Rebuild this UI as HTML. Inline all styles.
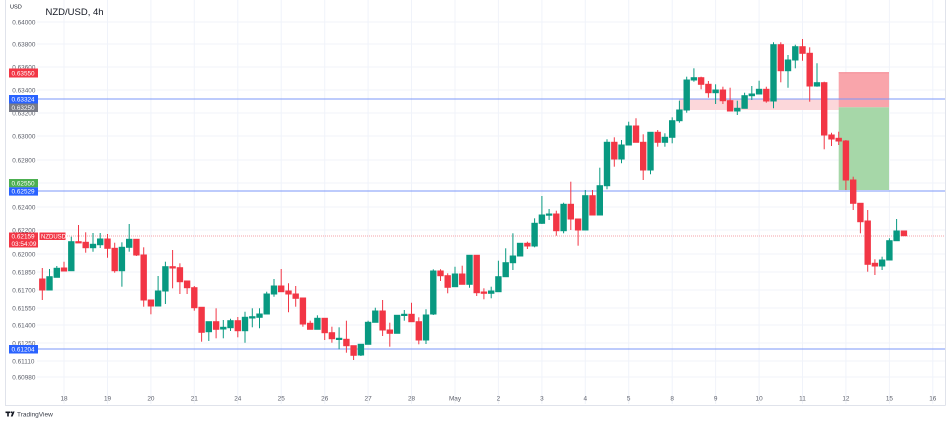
<!DOCTYPE html>
<html><head><meta charset="utf-8"><style>
html,body{margin:0;padding:0;background:#fff;}
svg{display:block;font-family:"Liberation Sans",sans-serif;}
</style></head><body>
<svg width="949" height="421" viewBox="0 0 949 421" xmlns="http://www.w3.org/2000/svg">
<rect width="949" height="421" fill="#fff"/>
<!-- frame -->
<line x1="5.5" y1="0" x2="5.5" y2="405.5" stroke="#e0e3eb" stroke-width="1"/>
<line x1="5" y1="405.5" x2="945.5" y2="405.5" stroke="#e0e3eb" stroke-width="1"/>
<line x1="945.5" y1="0" x2="945.5" y2="405.5" stroke="#e0e3eb" stroke-width="1"/>
<!-- horizontal grid -->
<g stroke="#f0f3fa" stroke-width="1">
<line x1="37" y1="22" x2="945" y2="22"/><line x1="37" y1="44" x2="945" y2="44"/>
<line x1="37" y1="67" x2="945" y2="67"/><line x1="37" y1="90" x2="945" y2="90"/>
<line x1="37" y1="113" x2="945" y2="113"/><line x1="37" y1="136" x2="945" y2="136"/>
<line x1="37" y1="160" x2="945" y2="160"/><line x1="37" y1="183" x2="945" y2="183"/>
<line x1="37" y1="207" x2="945" y2="207"/><line x1="37" y1="230" x2="945" y2="230"/>
<line x1="37" y1="254" x2="945" y2="254"/><line x1="37" y1="272" x2="945" y2="272"/>
<line x1="37" y1="290" x2="945" y2="290"/><line x1="37" y1="308" x2="945" y2="308"/>
<line x1="37" y1="325" x2="945" y2="325"/><line x1="37" y1="343" x2="945" y2="343"/>
<line x1="37" y1="361" x2="945" y2="361"/><line x1="37" y1="377" x2="945" y2="377"/>
</g>
<!-- vertical grid -->
<g stroke="#f0f3fa" stroke-width="1">
<line x1="64" y1="0" x2="64" y2="404"/><line x1="107.5" y1="0" x2="107.5" y2="404"/>
<line x1="150.9" y1="0" x2="150.9" y2="404"/><line x1="194.3" y1="0" x2="194.3" y2="404"/>
<line x1="237.8" y1="0" x2="237.8" y2="404"/><line x1="281.2" y1="0" x2="281.2" y2="404"/>
<line x1="324.7" y1="0" x2="324.7" y2="404"/><line x1="368.1" y1="0" x2="368.1" y2="404"/>
<line x1="411.5" y1="0" x2="411.5" y2="404"/><line x1="455" y1="0" x2="455" y2="404"/>
<line x1="498.4" y1="0" x2="498.4" y2="404"/><line x1="541.9" y1="0" x2="541.9" y2="404"/>
<line x1="585.3" y1="0" x2="585.3" y2="404"/><line x1="628.7" y1="0" x2="628.7" y2="404"/>
<line x1="672.2" y1="0" x2="672.2" y2="404"/><line x1="715.6" y1="0" x2="715.6" y2="404"/>
<line x1="759.1" y1="0" x2="759.1" y2="404"/><line x1="802.5" y1="0" x2="802.5" y2="404"/>
<line x1="845.9" y1="0" x2="845.9" y2="404"/><line x1="889.4" y1="0" x2="889.4" y2="404"/>
<line x1="932.8" y1="0" x2="932.8" y2="404"/>
</g>
<!-- zones -->
<rect x="679" y="99" width="160" height="11" fill="#fcd7da"/>
<rect x="838.7" y="72.3" width="50.3" height="35" fill="#f9a5ab"/>
<line x1="838.7" y1="72.8" x2="889" y2="72.8" stroke="#f38a93" stroke-width="1"/>
<rect x="838.7" y="107.3" width="50.3" height="82.7" fill="#a6d7a8"/>
<!-- horizontal lines -->
<g stroke="#7b97f8" stroke-width="1">
<line x1="38" y1="99" x2="945" y2="99"/>
<line x1="38" y1="191" x2="945" y2="191"/>
<line x1="38" y1="349" x2="945" y2="349"/>
</g>
<line x1="65" y1="236" x2="945" y2="236" stroke="#f5a3aa" stroke-width="1" stroke-dasharray="1 1"/>
<!-- candles -->
<g stroke-width="1">
<g stroke="#f23645" fill="#f23645">
<line x1="42.3" y1="268" x2="42.3" y2="300"/><rect x="39.6" y="279" width="5.4" height="11"/>
<line x1="64.0" y1="261.7" x2="64.0" y2="271"/><rect x="61.3" y="268" width="5.4" height="3"/>
<line x1="78.5" y1="225" x2="78.5" y2="242.7"/><rect x="75.8" y="241.7" width="5.4" height="1.2"/>
<line x1="85.7" y1="232.3" x2="85.7" y2="252.7"/><rect x="83" y="242.3" width="5.4" height="5.4"/>
<line x1="107.5" y1="234" x2="107.5" y2="257.7"/><rect x="104.8" y="239" width="5.4" height="9.3"/>
<line x1="114.7" y1="242.7" x2="114.7" y2="272.7"/><rect x="112" y="248.3" width="5.4" height="22.4"/>
<line x1="136.4" y1="239.3" x2="136.4" y2="256"/><rect x="133.7" y="239.3" width="5.4" height="15.7"/>
<line x1="143.7" y1="247.3" x2="143.7" y2="306.7"/><rect x="141" y="255" width="5.4" height="45"/>
<line x1="150.9" y1="300" x2="150.9" y2="314.3"/><rect x="148.2" y="300" width="5.4" height="6"/>
<line x1="172.6" y1="250" x2="172.6" y2="288.3"/><rect x="169.9" y="266.7" width="5.4" height="1.3"/>
<line x1="179.9" y1="263.3" x2="179.9" y2="294"/><rect x="177.2" y="267.7" width="5.4" height="14"/>
<line x1="187.1" y1="281" x2="187.1" y2="294"/><rect x="184.4" y="281" width="5.4" height="6.7"/>
<line x1="194.3" y1="286" x2="194.3" y2="310.7"/><rect x="191.6" y="287.7" width="5.4" height="20"/>
<line x1="201.6" y1="307.3" x2="201.6" y2="341.7"/><rect x="198.9" y="307.3" width="5.4" height="25"/>
<line x1="216.1" y1="308.3" x2="216.1" y2="338.3"/><rect x="213.4" y="321.7" width="5.4" height="7.6"/>
<line x1="237.8" y1="317" x2="237.8" y2="337.3"/><rect x="235.1" y="320.7" width="5.4" height="10"/>
<line x1="281.2" y1="269" x2="281.2" y2="291.7"/><rect x="278.5" y="286" width="5.4" height="5.7"/>
<line x1="288.5" y1="283.3" x2="288.5" y2="312.3"/><rect x="285.8" y="291" width="5.4" height="3"/>
<line x1="295.7" y1="286" x2="295.7" y2="306.7"/><rect x="293" y="294" width="5.4" height="4.3"/>
<line x1="302.9" y1="298" x2="302.9" y2="326.7"/><rect x="300.2" y="298" width="5.4" height="26"/>
<line x1="310.2" y1="320.7" x2="310.2" y2="329.3"/><rect x="307.5" y="323.3" width="5.4" height="6"/>
<line x1="324.7" y1="318.3" x2="324.7" y2="340"/><rect x="322" y="318.3" width="5.4" height="14.4"/>
<line x1="331.9" y1="326.7" x2="331.9" y2="342.7"/><rect x="329.2" y="332.7" width="5.4" height="6"/>
<line x1="346.4" y1="320.7" x2="346.4" y2="352.7"/><rect x="343.7" y="339.3" width="5.4" height="6.4"/>
<line x1="353.6" y1="345.7" x2="353.6" y2="360"/><rect x="350.9" y="345.7" width="5.4" height="9.6"/>
<line x1="382.6" y1="300" x2="382.6" y2="336"/><rect x="379.9" y="311" width="5.4" height="19"/>
<line x1="389.8" y1="322.7" x2="389.8" y2="346.7"/><rect x="387.1" y="330" width="5.4" height="3.3"/>
<line x1="411.5" y1="302.7" x2="411.5" y2="321.7"/><rect x="408.8" y="314.3" width="5.4" height="7.4"/>
<line x1="418.8" y1="317.3" x2="418.8" y2="344.3"/><rect x="416.1" y="321.7" width="5.4" height="18.3"/>
<line x1="440.5" y1="269.3" x2="440.5" y2="281"/><rect x="437.8" y="271" width="5.4" height="4.7"/>
<line x1="447.7" y1="273.3" x2="447.7" y2="293.3"/><rect x="445" y="275.7" width="5.4" height="11.6"/>
<line x1="462.2" y1="265.7" x2="462.2" y2="284.3"/><rect x="459.5" y="274" width="5.4" height="10.3"/>
<line x1="476.7" y1="255.3" x2="476.7" y2="296"/><rect x="474" y="255.3" width="5.4" height="37.4"/>
<line x1="483.9" y1="288.3" x2="483.9" y2="299.3"/><rect x="481.2" y="292" width="5.4" height="1.3"/>
<line x1="527.4" y1="241.7" x2="527.4" y2="249"/><rect x="524.7" y="243.3" width="5.4" height="2.7"/>
<line x1="556.3" y1="210.7" x2="556.3" y2="235.7"/><rect x="553.6" y="214" width="5.4" height="16.7"/>
<line x1="570.8" y1="181.7" x2="570.8" y2="230"/><rect x="568.1" y="204.3" width="5.4" height="14.7"/>
<line x1="578.1" y1="219" x2="578.1" y2="245.7"/><rect x="575.4" y="219" width="5.4" height="11"/>
<line x1="592.5" y1="190" x2="592.5" y2="215"/><rect x="589.8" y="195.7" width="5.4" height="19.3"/>
<line x1="614.3" y1="137.3" x2="614.3" y2="166.7"/><rect x="611.6" y="142.3" width="5.4" height="16.7"/>
<line x1="636.0" y1="118.3" x2="636.0" y2="142.3"/><rect x="633.3" y="126" width="5.4" height="16.3"/>
<line x1="643.2" y1="134.3" x2="643.2" y2="180"/><rect x="640.5" y="142.3" width="5.4" height="27.7"/>
<line x1="657.7" y1="130" x2="657.7" y2="146.7"/><rect x="655" y="132.3" width="5.4" height="10"/>
<line x1="701.1" y1="76.7" x2="701.1" y2="89.3"/><rect x="698.4" y="77.7" width="5.4" height="6.6"/>
<line x1="708.4" y1="81" x2="708.4" y2="97.7"/><rect x="705.7" y="84.3" width="5.4" height="8.4"/>
<line x1="722.9" y1="86.7" x2="722.9" y2="104"/><rect x="720.2" y="90" width="5.4" height="10.7"/>
<line x1="730.1" y1="87.7" x2="730.1" y2="111"/><rect x="727.4" y="100.7" width="5.4" height="10.3"/>
<line x1="766.3" y1="86.7" x2="766.3" y2="102.7"/><rect x="763.6" y="89.3" width="5.4" height="11.7"/>
<line x1="780.8" y1="42.3" x2="780.8" y2="82.3"/><rect x="778.1" y="44.7" width="5.4" height="26"/>
<line x1="802.5" y1="39" x2="802.5" y2="60.7"/><rect x="799.8" y="46.7" width="5.4" height="6.6"/>
<line x1="809.7" y1="47.3" x2="809.7" y2="101.7"/><rect x="807" y="53.3" width="5.4" height="32.7"/>
<line x1="824.2" y1="81.7" x2="824.2" y2="149.3"/><rect x="821.5" y="82.7" width="5.4" height="52.3"/>
<line x1="831.5" y1="132.7" x2="831.5" y2="146"/><rect x="828.8" y="135" width="5.4" height="4"/>
<line x1="838.7" y1="131.7" x2="838.7" y2="145"/><rect x="836" y="138.3" width="5.4" height="2.7"/>
<line x1="845.9" y1="140" x2="845.9" y2="190"/><rect x="843.2" y="141" width="5.4" height="39"/>
<line x1="853.2" y1="176.7" x2="853.2" y2="210"/><rect x="850.5" y="180" width="5.4" height="23.3"/>
<line x1="860.4" y1="203.3" x2="860.4" y2="233.3"/><rect x="857.7" y="203.3" width="5.4" height="18.4"/>
<line x1="867.7" y1="210" x2="867.7" y2="271.7"/><rect x="865" y="221" width="5.4" height="43.3"/>
<line x1="874.9" y1="259.3" x2="874.9" y2="275"/><rect x="872.2" y="263.3" width="5.4" height="2.7"/>
<rect x="901.2" y="231" width="5.4" height="4.7"/>
</g>
<g stroke="#089981" fill="#089981">
<line x1="49.5" y1="269" x2="49.5" y2="290"/><rect x="46.8" y="276.7" width="5.4" height="13.3"/>
<line x1="56.8" y1="266" x2="56.8" y2="277.3"/><rect x="54.1" y="268.3" width="5.4" height="9"/>
<line x1="71.3" y1="236.7" x2="71.3" y2="270.7"/><rect x="68.6" y="241.7" width="5.4" height="29"/>
<line x1="93.0" y1="233" x2="93.0" y2="251.7"/><rect x="90.3" y="244.3" width="5.4" height="3.4"/>
<line x1="100.2" y1="233" x2="100.2" y2="248"/><rect x="97.5" y="239" width="5.4" height="5.7"/>
<line x1="121.9" y1="242.3" x2="121.9" y2="286.7"/><rect x="119.2" y="247.3" width="5.4" height="23.4"/>
<line x1="129.2" y1="224" x2="129.2" y2="251.7"/><rect x="126.5" y="239.3" width="5.4" height="8"/>
<line x1="158.1" y1="276" x2="158.1" y2="306"/><rect x="155.4" y="291" width="5.4" height="15"/>
<line x1="165.4" y1="261.7" x2="165.4" y2="304"/><rect x="162.7" y="266.7" width="5.4" height="24.3"/>
<line x1="208.8" y1="321.7" x2="208.8" y2="341"/><rect x="206.1" y="321.7" width="5.4" height="10"/>
<line x1="223.3" y1="320" x2="223.3" y2="338.3"/><rect x="220.6" y="327.3" width="5.4" height="1.7"/>
<line x1="230.5" y1="318.7" x2="230.5" y2="331"/><rect x="227.8" y="320.7" width="5.4" height="7"/>
<line x1="245.0" y1="311.7" x2="245.0" y2="342.7"/><rect x="242.3" y="317.3" width="5.4" height="13.4"/>
<line x1="252.3" y1="308.3" x2="252.3" y2="327.3"/><rect x="249.6" y="316.7" width="5.4" height="1.3"/>
<line x1="259.5" y1="308.3" x2="259.5" y2="328.3"/><rect x="256.8" y="314" width="5.4" height="3.3"/>
<line x1="266.7" y1="291.7" x2="266.7" y2="314"/><rect x="264" y="294" width="5.4" height="20"/>
<line x1="274.0" y1="279" x2="274.0" y2="296.7"/><rect x="271.3" y="286" width="5.4" height="8"/>
<line x1="317.4" y1="315.3" x2="317.4" y2="329.3"/><rect x="314.7" y="318.3" width="5.4" height="11"/>
<line x1="339.1" y1="327.3" x2="339.1" y2="349.3"/><rect x="336.4" y="338.3" width="5.4" height="1.2"/>
<line x1="360.9" y1="344.3" x2="360.9" y2="356"/><rect x="358.2" y="344.3" width="5.4" height="10.7"/>
<line x1="368.1" y1="320.7" x2="368.1" y2="344.3"/><rect x="365.4" y="322.3" width="5.4" height="22"/>
<line x1="375.3" y1="307.7" x2="375.3" y2="322.3"/><rect x="372.6" y="311" width="5.4" height="11.3"/>
<line x1="397.1" y1="315.3" x2="397.1" y2="333.3"/><rect x="394.4" y="315.3" width="5.4" height="18"/>
<line x1="404.3" y1="310" x2="404.3" y2="320.7"/><rect x="401.6" y="314.3" width="5.4" height="1.2"/>
<line x1="426.0" y1="309.3" x2="426.0" y2="344"/><rect x="423.3" y="315" width="5.4" height="25"/>
<line x1="433.3" y1="269.3" x2="433.3" y2="315"/><rect x="430.6" y="271" width="5.4" height="43"/>
<line x1="455.0" y1="266.7" x2="455.0" y2="286.7"/><rect x="452.3" y="274" width="5.4" height="12.7"/>
<line x1="469.5" y1="255.3" x2="469.5" y2="287.7"/><rect x="466.8" y="255.3" width="5.4" height="29"/>
<line x1="491.2" y1="286.7" x2="491.2" y2="298.3"/><rect x="488.5" y="291" width="5.4" height="2.3"/>
<line x1="498.4" y1="260.7" x2="498.4" y2="291.7"/><rect x="495.7" y="276.7" width="5.4" height="15"/>
<line x1="505.7" y1="248.3" x2="505.7" y2="276.7"/><rect x="503" y="262.7" width="5.4" height="14"/>
<line x1="512.9" y1="233.3" x2="512.9" y2="270"/><rect x="510.2" y="256" width="5.4" height="6.7"/>
<line x1="520.1" y1="243.3" x2="520.1" y2="256"/><rect x="517.4" y="243.3" width="5.4" height="12.7"/>
<line x1="534.6" y1="218.3" x2="534.6" y2="247.3"/><rect x="531.9" y="223.3" width="5.4" height="22.7"/>
<line x1="541.9" y1="196" x2="541.9" y2="224"/><rect x="539.2" y="215" width="5.4" height="8.3"/>
<line x1="549.1" y1="209" x2="549.1" y2="220"/><rect x="546.4" y="214" width="5.4" height="1.2"/>
<line x1="563.6" y1="202.7" x2="563.6" y2="233.3"/><rect x="560.9" y="204.3" width="5.4" height="26.4"/>
<line x1="585.3" y1="190" x2="585.3" y2="230"/><rect x="582.6" y="195.7" width="5.4" height="34.3"/>
<line x1="599.8" y1="167.7" x2="599.8" y2="215"/><rect x="597.1" y="185.7" width="5.4" height="29.3"/>
<line x1="607.0" y1="139.3" x2="607.0" y2="189.3"/><rect x="604.3" y="142.3" width="5.4" height="43.4"/>
<line x1="621.5" y1="140" x2="621.5" y2="163.3"/><rect x="618.8" y="145" width="5.4" height="14"/>
<line x1="628.7" y1="121.7" x2="628.7" y2="145"/><rect x="626" y="126" width="5.4" height="19"/>
<line x1="650.5" y1="132.3" x2="650.5" y2="174.3"/><rect x="647.8" y="132.3" width="5.4" height="37.7"/>
<line x1="664.9" y1="133.3" x2="664.9" y2="146.7"/><rect x="662.2" y="137.3" width="5.4" height="5"/>
<line x1="672.2" y1="117.3" x2="672.2" y2="143.3"/><rect x="669.5" y="120.7" width="5.4" height="16.6"/>
<line x1="679.4" y1="100.7" x2="679.4" y2="122.7"/><rect x="676.7" y="110" width="5.4" height="10.7"/>
<line x1="686.7" y1="76.7" x2="686.7" y2="112.7"/><rect x="684" y="80" width="5.4" height="30"/>
<line x1="693.9" y1="68.3" x2="693.9" y2="81.7"/><rect x="691.2" y="77.7" width="5.4" height="2.3"/>
<line x1="715.6" y1="84.3" x2="715.6" y2="104"/><rect x="712.9" y="90" width="5.4" height="2.7"/>
<line x1="737.3" y1="100.7" x2="737.3" y2="115"/><rect x="734.6" y="108.3" width="5.4" height="2.7"/>
<line x1="744.6" y1="92.7" x2="744.6" y2="108.3"/><rect x="741.9" y="95.7" width="5.4" height="12.6"/>
<line x1="751.8" y1="86" x2="751.8" y2="100"/><rect x="749.1" y="94" width="5.4" height="1.7"/>
<line x1="759.1" y1="80.7" x2="759.1" y2="94"/><rect x="756.4" y="89.3" width="5.4" height="4.7"/>
<line x1="773.5" y1="42.3" x2="773.5" y2="108.3"/><rect x="770.8" y="44.7" width="5.4" height="56.3"/>
<line x1="788.0" y1="55" x2="788.0" y2="87.7"/><rect x="785.3" y="60" width="5.4" height="10.7"/>
<line x1="795.3" y1="44.7" x2="795.3" y2="68.3"/><rect x="792.6" y="46.7" width="5.4" height="13.3"/>
<line x1="817.0" y1="63.3" x2="817.0" y2="86.7"/><rect x="814.3" y="82.7" width="5.4" height="3.3"/>
<line x1="882.1" y1="256.7" x2="882.1" y2="270"/><rect x="879.4" y="260" width="5.4" height="6"/>
<line x1="889.4" y1="238.3" x2="889.4" y2="260"/><rect x="886.7" y="240.7" width="5.4" height="19.3"/>
<line x1="896.6" y1="219" x2="896.6" y2="240.7"/><rect x="893.9" y="231" width="5.4" height="9.7"/>
</g>
</g>
<!-- price axis labels -->
<g font-size="6.4" fill="#5d606b">
<text x="12.3" y="24.3">0.64000</text>
<text x="12.3" y="46.3">0.63800</text>
<text x="12.3" y="69.3">0.63600</text>
<text x="12.3" y="92.3">0.63400</text>
<text x="12.3" y="115.3">0.63200</text>
<text x="12.3" y="138.3">0.63000</text>
<text x="12.3" y="162.3">0.62800</text>
<text x="12.3" y="185.3">0.62600</text>
<text x="12.3" y="209.3">0.62400</text>
<text x="12.3" y="232.3">0.62200</text>
<text x="12.3" y="256.3">0.62000</text>
<text x="12.3" y="274.3">0.61850</text>
<text x="12.3" y="292.3">0.61700</text>
<text x="12.3" y="310.3">0.61550</text>
<text x="12.3" y="327.3">0.61400</text>
<text x="12.3" y="345.3">0.61250</text>
<text x="12.3" y="363.3">0.61110</text>
<text x="12.3" y="379.3">0.60980</text>
</g>
<!-- colored price labels -->
<rect x="9" y="68.5" width="29" height="9" fill="#f23645"/>
<rect x="9" y="95" width="29" height="8.5" fill="#2962ff"/>
<rect x="9" y="103.5" width="29" height="8.5" fill="#787b86"/>
<rect x="9" y="179" width="29" height="8.3" fill="#4caf50"/>
<rect x="9" y="187.3" width="29" height="8.3" fill="#2962ff"/>
<rect x="9" y="232.5" width="29" height="15" fill="#f23645"/>
<rect x="39.5" y="232.5" width="26" height="7.5" fill="#f23645"/>
<rect x="9" y="345" width="29" height="8.5" fill="#2962ff"/>
<g font-size="6.4" fill="#ffffff">
<text x="11.5" y="75.3">0.63550</text>
<text x="11.5" y="101.5">0.63324</text>
<text x="11.5" y="110">0.63250</text>
<text x="11.5" y="185.4">0.62550</text>
<text x="11.5" y="193.7">0.62529</text>
<text x="11.5" y="238.7">0.62159</text>
<text x="11.5" y="246">03:54:09</text>
<text x="41" y="238.6" font-size="6">NZDUSD</text>
<text x="11.5" y="351.5">0.61204</text>
</g>
<!-- time axis labels -->
<g font-size="6.4" fill="#5d606b" text-anchor="middle">
<text x="64" y="400.7">18</text><text x="107.5" y="400.7">19</text>
<text x="150.9" y="400.7">20</text><text x="194.3" y="400.7">21</text>
<text x="237.8" y="400.7">24</text><text x="281.2" y="400.7">25</text>
<text x="324.7" y="400.7">26</text><text x="368.1" y="400.7">27</text>
<text x="411.5" y="400.7">28</text><text x="455" y="400.7">May</text>
<text x="498.4" y="400.7">2</text><text x="541.9" y="400.7">3</text>
<text x="585.3" y="400.7">4</text><text x="628.7" y="400.7">5</text>
<text x="672.2" y="400.7">8</text><text x="715.6" y="400.7">9</text>
<text x="759.1" y="400.7">10</text><text x="802.5" y="400.7">11</text>
<text x="845.9" y="400.7">12</text><text x="889.4" y="400.7">15</text>
<text x="932.8" y="400.7">16</text>
</g>
<!-- title -->
<text x="10" y="8.3" font-size="5.6" fill="#131722">USD</text>
<text x="45.5" y="15.2" font-size="9.5" fill="#131722">NZD/USD, 4h</text>
<!-- TradingView logo -->
<g fill="#131722">
<rect x="5.5" y="411.5" width="4.5" height="1.6"/>
<rect x="7.2" y="411.5" width="1.6" height="5"/>
<circle cx="11.3" cy="412.3" r="0.9"/>
<polygon points="12.6,411.5 14.6,411.5 12.6,416.5 10.8,416.5"/>
</g>
<text x="17" y="416.5" font-size="6.5" fill="#3a3e49">TradingView</text>
</svg>
</body></html>
